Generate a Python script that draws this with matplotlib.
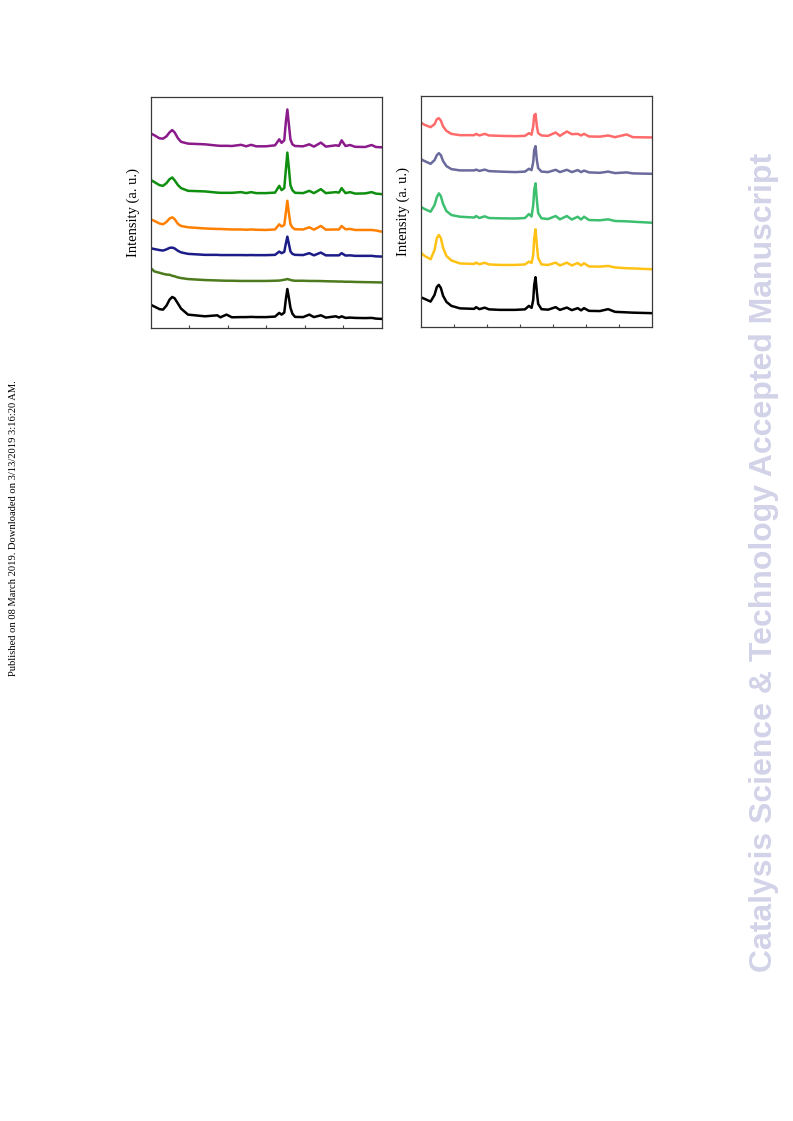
import matplotlib
matplotlib.use("Agg")
import matplotlib.pyplot as plt

# 2theta grid (deg) for the left panel
left_x = [10, 11, 12.3, 13.2, 14.1, 14.9, 15.6, 16.2, 17.1, 17.9,
          19.7, 24.1, 27.3, 28.1, 29.7, 31.1, 33.5, 34.8, 36.1, 37.4,
          39.9, 42.3, 43.4, 44.0, 44.7, 45.1, 45.5, 45.9, 46.3, 46.8,
          47.5, 49.6, 51.2, 52.4, 54.2, 55.5, 58.1, 58.9, 59.6, 60.6,
          61.8, 63.1, 65.7, 67.4, 68.5, 70]

# intensities (a. u.), already stacked as in the figure
left_purple = [195, 193, 190, 189.7, 192, 196, 198.3, 196, 190, 186.5,
               184.7, 184, 182.7, 182.5, 182.5, 182.3, 183.5, 182, 183.5, 182,
               182, 183, 189, 185.5, 188, 206, 219, 204, 189, 184,
               182.3, 182, 184, 181.7, 185.7, 181.7, 183, 182.5, 188, 182.3,
               183.3, 181.5, 181.3, 183.3, 181.3, 181]
left_green = [148.3, 146, 143, 142.3, 145, 149, 150.7, 148, 143, 140,
              137.3, 136.7, 135.5, 135.3, 135.3, 135.3, 136, 135, 136, 135,
              135, 135.5, 142.3, 138, 140, 158, 175.7, 160, 143, 138,
              135.3, 135, 137.3, 135, 139, 135, 136, 135.5, 140, 135,
              136, 134.5, 134.7, 136, 134.5, 134]
left_orange = [108.7, 107, 104.5, 103.7, 106, 109.5, 110.7, 109, 104, 102,
               100.7, 99.5, 99, 99, 98.7, 98.5, 98.5, 98.2, 98.5, 98.2,
               98, 98.5, 103.7, 101.5, 103, 115, 127.3, 115, 104, 100.5,
               98.7, 98.5, 100.7, 98.3, 102, 98.3, 98.5, 98.5, 102, 98.7,
               99, 98, 98, 98, 97.5, 96.3]
left_navy = [79.7, 78.8, 77.8, 77.3, 78.5, 80, 80.3, 79.5, 77, 75.5,
             74, 73, 73, 72.8, 72.8, 72.8, 72.8, 72.7, 72.8, 72.7,
             72.7, 73, 76.3, 74.7, 76, 84, 91.3, 84, 76.5, 74,
             73, 72.8, 74.7, 72.5, 75.3, 72.5, 72.5, 72.5, 74.7, 72.3,
             72.5, 72, 72, 72, 71.5, 71.3]
left_olive = [59.7, 56.3, 55, 54, 53.2, 53, 52, 51.5, 50.3, 49.7,
              48.7, 47.7, 47.3, 47.2, 47, 47, 46.8, 46.8, 46.8, 46.8,
              46.8, 47, 47.2, 47.5, 48, 48.3, 48.7, 48.3, 47.8, 47.3,
              47, 47, 46.8, 46.8, 46.7, 46.5, 46.3, 46.2, 46.2, 46,
              46, 45.8, 45.6, 45.5, 45.4, 45.3]
left_black = [23, 21, 18.5, 18, 22, 28, 30.7, 29.5, 24, 19,
              13, 11.3, 12.3, 10.3, 13, 10.3, 10.5, 10.5, 10.7, 10.5,
              10.5, 11, 14.7, 13, 15, 28, 38.7, 30, 20, 14,
              10.7, 10.5, 13, 10.5, 12.3, 10, 11.3, 10, 11.3, 9.7,
              10, 9.7, 9.5, 9.7, 9, 8.7]

# 2theta grid (deg) for the right panel
right_x = [10, 11.2, 13.0, 14.2, 14.9, 15.5, 16.1, 16.8, 17.8, 19.3,
           21.9, 26.2, 26.8, 27.8, 29.4, 30.7, 34, 38.6, 41.6, 42.8,
           43.6, 44.1, 44.4, 44.8, 45.2, 45.6, 46.6, 48.6, 50.9, 52.2,
           54.3, 55.8, 57.6, 58.6, 59.5, 61.0, 64.3, 66.8, 68.9, 72.4,
           74.3, 80]

right_red = [205.2, 202.8, 200.5, 203.5, 208.5, 209.5, 207.2, 201.2, 196.8, 193.8,
             192.5, 192.5, 193.8, 192.2, 193.8, 192.2, 191.8, 191.5, 191.8, 194.5,
             193, 201.5, 212.5, 213.8, 201.5, 194.5, 192.2, 191.8, 195.2, 191.8,
             196.2, 193.5, 193.8, 192.2, 193.8, 191.2, 191, 192.2, 190.5, 193.2,
             190.5, 190.2]
right_slate = [168.5, 166.5, 163.8, 167.5, 172.5, 174.5, 172.5, 166.5, 161.5, 158.5,
               157.2, 157.2, 158, 156.7, 158, 156.5, 156, 155.5, 156, 158.8,
               157.5, 165.5, 177.5, 181.5, 167.5, 159.5, 156, 155.5, 157.8, 155.5,
               157.8, 155.5, 157.5, 155.5, 157, 155.2, 154.8, 156, 154.5, 155.2,
               154.2, 153.8]
right_green = [120.8, 118.5, 115.8, 122.5, 130.5, 134.2, 131.5, 123.5, 116.5, 112.5,
               110.8, 110, 111.5, 109.5, 111.2, 109.5, 109.2, 109, 109.5, 113.5,
               111, 122.5, 137.5, 144.2, 127.5, 114.5, 109.2, 108.5, 111.5, 108.2,
               111.5, 108, 110.8, 108, 110.8, 107.5, 107.2, 108.2, 106.5, 106.2,
               105.8, 104.8]
right_yellow = [74.8, 71.5, 68.2, 77.5, 89.5, 92.5, 89.5, 79.5, 71.5, 67,
                64, 63.5, 64.8, 63.2, 64.7, 63, 62.5, 62.5, 63, 65.8,
                64.5, 72.5, 89.5, 98.2, 82.5, 69.5, 63, 62.5, 64.8, 62,
                64.8, 62, 64.5, 62, 64.2, 61, 60.8, 61.5, 60, 59.2,
                59, 58.2]
right_black = [30.2, 28.5, 25.8, 32.5, 40.5, 42.5, 39.5, 31.5, 25.5, 21.5,
               19, 18.5, 20.2, 18.2, 19.7, 18, 17.5, 17.5, 18, 21.5,
               19.5, 27.5, 42.5, 50.2, 35.5, 23.5, 18.2, 17.7, 20.2, 17.5,
               19.8, 17.2, 19.2, 17, 19.2, 16.5, 16.3, 18.2, 15.5, 15,
               14.7, 14.2]

left_ticks = [20, 30, 40, 50, 60]
right_ticks = [20, 30, 40, 50, 60, 70]

fig = plt.figure(figsize=(7.93, 11.21), dpi=100)

ax1 = fig.add_axes([0.190, 0.7078, 0.2913, 0.2061])
ax2 = fig.add_axes([0.5305, 0.7080, 0.2913, 0.2066])

left_series = [(left_purple, '#8b1a8b'), (left_green, '#0f8f0f'),
               (left_orange, '#ff8000'), (left_navy, '#1c1c88'),
               (left_olive, '#4c7a1c'), (left_black, '#000000')]
right_series = [(right_red, '#ff6b6b'), (right_slate, '#6a6a9c'),
                (right_green, '#3dbf70'), (right_yellow, '#ffc214'),
                (right_black, '#000000')]

for ys, c in left_series:
    ax1.plot(left_x, ys, color=c, lw=1.8, solid_joinstyle='round')
for ys, c in right_series:
    ax2.plot(right_x, ys, color=c, lw=1.8, solid_joinstyle='round')

ax1.set_xlim(10, 70)
ax2.set_xlim(10, 80)
ax1.set_xticks(left_ticks)
ax2.set_xticks(right_ticks)

for ax in (ax1, ax2):
    ax.set_ylim(0, 232)
    ax.set_yticks([])
    ax.set_xticklabels([])
    ax.tick_params(axis='x', direction='in', length=2.5, width=0.8, color='#444444')
    for sp in ax.spines.values():
        sp.set_linewidth(0.9)
        sp.set_color('#3a3a3a')
    ax.set_ylabel('Intensity (a. u.)', family='Liberation Serif', fontsize=10.5, labelpad=8)

# side texts of the journal page
fig.text(0.9635, 0.4987, 'Catalysis Science & Technology Accepted Manuscript',
         rotation=90, ha='center', va='center', family='Liberation Sans',
         fontweight='bold', fontsize=23, color='#d2d2e8')
fig.text(0.0164, 0.529, 'Published on 08 March 2019. Downloaded on 3/13/2019 3:16:20 AM.',
         rotation=90, ha='center', va='center', family='Liberation Serif',
         fontsize=7.6, color='black')

fig.savefig('out.png', dpi=100)
